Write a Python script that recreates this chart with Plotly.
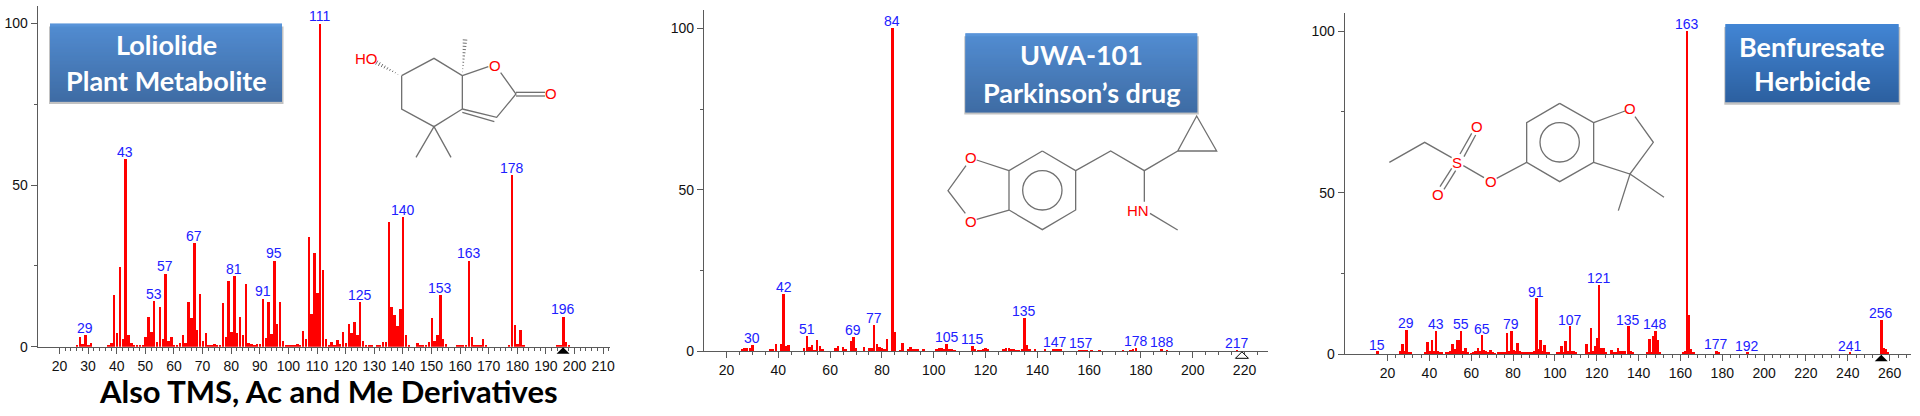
import plotly.graph_objects as go

W, H = 1920, 416
BLUE = "#2020ff"
RED = "#ff0000"
GREY = "#5a5a5a"

# ---------- data ----------
mz1 = [26,27,28,29,30,31,37,38,39,40,41,42,43,44,45,46,47,48,49,50,51,52,53,54,55,56,57,58,59,60,61,62,63,64,65,66,67,68,69,70,71,72,73,74,75,76,77,78,79,80,81,82,83,84,85,86,87,88,89,90,91,92,93,94,95,96,97,98,99,100,101,102,103,104,105,106,107,108,109,110,111,112,113,114,115,116,117,118,119,120,121,122,123,124,125,126,127,128,129,131,132,133,134,135,136,137,138,139,140,141,142,145,146,147,148,149,150,151,152,153,154,155,159,160,161,162,163,164,165,166,167,168,169,177,178,179,180,181,182,194,195,196,197,198]
in1 = [0.7,3,0.8,3.6,0.6,1.2,0.7,1.3,16,4.3,24.7,2.6,58.2,3.6,1.3,0.6,0.5,0.5,0.5,3,9.4,4.6,14.2,1.7,12.4,2.6,22.7,1.9,3.1,0.6,0.6,1.3,3.6,1.2,14,9,32.2,5.4,16.5,2,4.3,0.6,0.6,0.8,0.7,0.5,13.6,3.1,20.3,4.5,21.9,4.3,9.2,3.6,19.4,1.3,1,0.6,0.8,0.8,15,2.9,14,4,26.7,7.2,13.9,2,0.7,0.7,0.6,0.6,1,0.6,4.8,2.6,33.9,10.3,29,16.7,100,23.7,2.6,0.6,1.4,0.7,2.3,1,4.5,1.3,7.2,4.3,7.7,3.8,13.8,1.8,0.7,0.6,0.6,0.6,0.7,1.7,1.5,38.6,12.4,10,6.5,11.8,40.2,3.6,0.7,1.1,0.7,0.6,0.6,1.6,9,1.9,3.6,16,2.4,0.9,0.6,0.5,0.5,0.6,26.7,3.1,0.7,0.5,0.7,2.6,0.6,0.7,53.1,6.7,0.9,5.3,0.7,0.6,0.6,9.4,1.7,0.7]
labels1 = [29,43,53,57,67,81,91,95,111,125,140,153,163,178,196]
ion1 = 196
xticks1 = [20,30,40,50,60,70,80,90,100,110,120,130,140,150,160,170,180,190,200,210]

mz2 = [26,27,28,29,30,37,38,39,41,42,43,44,50,51,52,53,54,55,56,57,62,63,65,66,68,69,70,73,75,76,77,78,79,80,81,82,84,85,87,88,90,91,92,93,94,96,101,102,103,104,105,106,107,108,115,116,117,118,119,120,121,127,128,129,130,131,132,133,134,135,136,137,139,143,146,147,148,149,156,157,158,159,161,164,173,176,177,178,188,190,217]
in2 = [0.8,0.9,1.1,1.1,1.9,0.6,0.7,2.2,2.2,17.6,1.5,1.8,1,4.8,1.2,2,0.5,3.4,1.5,0.7,1,1.5,1.4,0.8,3.3,4.3,1.1,1.2,0.9,1,8,2.2,1.4,1,0.7,3.8,100,6,0.5,2.7,0.6,1.2,0.7,0.6,0.6,0.7,0.7,1,1,0.6,2.2,0.7,0.7,0.4,1.6,0.6,0.5,0.5,0.7,0.9,0.7,0.7,1,0.9,0.6,0.8,0.5,0.5,0.7,10.2,1.8,0.6,0.6,0.6,0.6,0.8,0.8,0.6,0.5,0.5,0.5,0.5,0.5,0.4,0.5,0.5,0.7,1,0.6,0.5,0.5]
labels2 = [30,42,51,69,77,84,105,115,135,147,157,178,188,217]
ion2 = 219
xticks2 = [20,40,60,80,100,120,140,160,180,200,220]

mz3 = [15,26,27,28,29,30,31,38,39,40,41,42,43,44,45,46,48,49,50,51,52,53,54,55,56,57,58,60,61,62,63,64,65,66,67,68,69,70,71,73,74,75,76,77,78,79,80,81,82,83,84,85,86,87,88,89,90,91,92,93,94,95,96,97,101,102,103,104,105,106,107,108,109,110,115,116,117,118,119,120,121,122,123,124,127,128,129,130,131,132,133,135,136,137,144,145,146,147,148,149,150,161,162,163,164,165,166,177,178,192,241,256,257,258,259]
in3 = [0.8,0.8,3.1,0.8,7.5,0.7,0.4,0.7,3.7,0.9,4.2,0.9,7.2,0.8,0.6,0.5,0.5,0.7,0.9,3.1,1.4,4.2,4.2,7.2,1,1.9,0.7,0.3,0.6,0.8,2,1,5.8,1.2,1,0.5,1.2,0.7,0.3,0.5,0.5,0.5,0.5,6.5,0.8,7.2,1.1,0.8,3.4,1,0.6,0.5,0.5,0.5,0.5,0.5,1,17.2,1.5,4.4,1,2.7,0.5,0.5,0.5,0.6,2.4,0.6,4.1,1,8.6,1,0.9,0.5,3.1,0.5,8.1,1,2.6,5,21.4,2,2,0.7,1.2,0.7,0.5,1.9,1,1,1,8.6,1,0.5,0.7,4.5,0.7,5.5,7.2,4.2,0.7,0.7,1,100,12,1.4,0.7,0.9,0.5,0.5,0.5,10.6,1.9,1.5,0.7]
labels3 = [15,29,43,55,65,79,91,107,121,135,148,163,177,192,241,256]
ion3 = 256
xticks3 = [20,40,60,80,100,120,140,160,180,200,220,240,260]

y_ticks = [0, 50, 100]
y_minor = [25, 75]
titles = [["Loliolide", "Plant Metabolite"], ["UWA-101", "Parkinson’s drug"], ["Benfuresate", "Herbicide"]]
footer = "Also TMS, Ac and Me Derivatives"

# ---------- layout geometry (pixels of the 1920x416 page) ----------
def fx(x): return x / W
def fy(y): return 1 - y / H

panels = [
    dict(mz=mz1, vals=in1, labels=labels1, ion=ion1, hollow=False, px=(37.7, 610), py=(346.7, 5.7),
         xr=[12.38, 212.4], yr=[0, 105.5], ticks=xticks1, minor=2, bw=0.85),
    dict(mz=mz2, vals=in2, labels=labels2, ion=ion2, hollow=True, px=(704, 1268), py=(351.3, 10),
         xr=[11.3, 229.06], yr=[0, 105.66], ticks=xticks2, minor=5, bw=0.95),
    dict(mz=mz3, vals=in3, labels=labels3, ion=ion3, hollow=False, px=(1344.7, 1910.7), py=(354.3, 13.3),
         xr=[-0.48, 270.07], yr=[0, 105.5], ticks=xticks3, minor=4, bw=1.2),
]

fig = go.Figure()
annotations, shapes = [], []
TICKFONT = dict(family="Liberation Sans", size=14, color="#111")

for i, p in enumerate(panels, start=1):
    sfx = "" if i == 1 else str(i)
    fig.add_trace(go.Bar(x=p["mz"], y=p["vals"], width=p["bw"], marker=dict(color=RED, line=dict(width=0)),
                         xaxis=f"x{sfx}", yaxis=f"y{sfx}", hoverinfo="x+y"))
    minor_vals = [v for v in range(p["ticks"][0], int(p["xr"][1]) + 1, p["minor"]) if v not in p["ticks"]]
    fig.update_layout({
        f"xaxis{sfx}": dict(domain=[fx(p["px"][0]), fx(p["px"][1])], range=p["xr"], anchor=f"y{sfx}", automargin=False,
                            tickvals=p["ticks"], ticks="outside", ticklen=6, tickwidth=1, tickcolor=GREY,
                            linecolor=GREY, linewidth=1.3, showline=True, showgrid=False, zeroline=False,
                            tickfont=TICKFONT,
                            minor=dict(tickvals=minor_vals, ticks="outside", ticklen=3, tickwidth=1, tickcolor=GREY, showgrid=False)),
        f"yaxis{sfx}": dict(domain=[fy(p["py"][0]), fy(p["py"][1])], range=p["yr"], anchor=f"x{sfx}", automargin=False,
                            tickvals=y_ticks, ticks="outside", ticklen=6, tickwidth=1, tickcolor=GREY,
                            linecolor=GREY, linewidth=1.3, showline=True, showgrid=False, zeroline=False,
                            tickfont=TICKFONT,
                            minor=dict(tickvals=y_minor, ticks="outside", ticklen=3, tickwidth=1, tickcolor=GREY, showgrid=False)),
    })
    lookup = dict(zip(p["mz"], p["vals"]))
    for m in p["labels"]:
        annotations.append(dict(x=m, y=lookup[m], xref=f"x{sfx}", yref=f"y{sfx}", text=str(m), showarrow=False,
                                yanchor="bottom", xanchor="center", yshift=-2, borderpad=0,
                                font=dict(family="Liberation Sans", size=14, color=BLUE)))
    # molecular-ion marker: a triangle sitting under the axis, anchored on the m/z axis
    upx = (p["px"][1] - p["px"][0]) / (p["xr"][1] - p["xr"][0])
    hw = 6.5 / upx
    ya = fy(p["py"][0] + 0.5)
    yb = fy(p["py"][0] + 7)
    shapes.append(dict(type="path", xref=f"x{sfx}", yref="paper",
                       path=f"M {p['ion']},{ya:.5f} L {p['ion'] - hw:.3f},{yb:.5f} L {p['ion'] + hw:.3f},{yb:.5f} Z",
                       fillcolor="white" if p["hollow"] else "black", line=dict(color="black", width=1 if p["hollow"] else 0)))

# ---------- title boxes ----------
boxes = [(50, 282, 23.5, 101.5, 45, 81), (965.3, 1197.3, 33.3, 112, 55, 92), (1725.3, 1898.7, 24, 102.3, 46, 81)]
top, bot = (66, 133, 212), (44, 96, 160)
for (x0, x1, y0, y1, t1, t2), lines in zip(boxes, titles):
    shapes.append(dict(type="rect", xref="paper", yref="paper", x0=fx(x0 - 1), x1=fx(x1 + 1.5), y0=fy(y1 + 2.5), y1=fy(y0 + 3),
                       fillcolor="rgba(120,120,120,0.45)", line=dict(width=0), layer="below"))
    n = int(round(y1 - y0))
    for k in range(n):
        t = k / max(n - 1, 1)
        c = [round(a + (b - a) * t) for a, b in zip(top, bot)]
        shapes.append(dict(type="rect", xref="paper", yref="paper", x0=fx(x0), x1=fx(x1),
                           y0=fy(y0 + k + 1.3), y1=fy(y0 + k), fillcolor=f"rgb({c[0]},{c[1]},{c[2]})", line=dict(width=0)))
    for txt, yc in zip(lines, (t1, t2)):
        annotations.append(dict(x=fx((x0 + x1) / 2), y=fy(yc), xref="paper", yref="paper", text=txt, showarrow=False,
                                xanchor="center", yanchor="middle",
                                font=dict(family="Lato", size=27, color="white", weight=700)))

annotations.append(dict(x=fx(328), y=fy(391), xref="paper", yref="paper", text=footer, showarrow=False,
                        xanchor="center", yanchor="middle", font=dict(family="Lato", size=31, color="black", weight=700)))

# ---------- chemical structures (coordinates in zoom units: page px * 3) ----------
def seg(ox, pts, color="#707070", width=1.3):
    path = "M " + " L ".join(f"{fx(ox + a / 3):.5f},{fy(b / 3):.5f}" for a, b in pts)
    shapes.append(dict(type="path", xref="paper", yref="paper", path=path, line=dict(color=color, width=width)))

def chem_text(ox, a, b, s, size=15):
    annotations.append(dict(x=fx(ox + a / 3), y=fy(b / 3), xref="paper", yref="paper", text=s, showarrow=False,
                            xanchor="center", yanchor="middle", borderpad=0,
                            font=dict(family="Liberation Sans", size=size, color=RED)))

def hash_wedge(ox, a, b, n=8, half=4.5):
    (ax, ay), (bx, by) = a, b
    dx, dy = bx - ax, by - ay
    L = (dx * dx + dy * dy) ** 0.5
    ux, uy = -dy / L, dx / L
    for k in range(1, n + 1):
        t = k / n
        cx, cy = ax + dx * t, ay + dy * t
        h = half * t * 1.5
        seg(ox, [(cx - ux * h, cy - uy * h), (cx + ux * h, cy + uy * h)], width=1)

def ring(ox, cx, cy, r):
    shapes.append(dict(type="circle", xref="paper", yref="paper", x0=fx(ox + (cx - r) / 3), x1=fx(ox + (cx + r) / 3),
                       y0=fy((cy + r) / 3), y1=fy((cy - r) / 3), line=dict(color="#707070", width=1.3)))

# Loliolide
O1 = 310
seg(O1, [(275, 227), (372, 175), (457, 227), (457, 327), (372, 380), (275, 327), (275, 227)])
seg(O1, [(457, 227), (535, 200)])
seg(O1, [(572, 218), (618, 282), (560, 352), (457, 327)])
seg(O1, [(553, 365), (457, 337)])
seg(O1, [(618, 277), (705, 277)])
seg(O1, [(618, 288), (705, 288)])
seg(O1, [(318, 472), (372, 380), (423, 472)])
hash_wedge(O1, (457, 225), (465, 120), n=11)
hash_wedge(O1, (272, 227), (200, 188), n=9)
chem_text(O1, 168, 175, "HO"); chem_text(O1, 555, 195, "O"); chem_text(O1, 723, 280, "O")

# UWA-101
O2 = 960
seg(O2, [(247, 453), (347, 512), (347, 630), (247, 689), (147, 630), (147, 512), (247, 453)])
ring(O2, 247, 571, 59)
seg(O2, [(147, 512), (50, 480)]); seg(O2, [(147, 630), (50, 658)])
seg(O2, [(18, 497), (-36, 572), (16, 640)])
seg(O2, [(347, 512), (452, 453), (553, 512), (653, 453), (710, 348), (770, 453), (653, 453)])
seg(O2, [(553, 512), (553, 605)]); seg(O2, [(570, 640), (653, 690)])
chem_text(O2, 34, 472, "O"); chem_text(O2, 34, 664, "O"); chem_text(O2, 535, 630, "HN")

# Benfuresate
O3 = 1300
seg(O3, [(268, 487), (374, 427), (455, 473)])
seg(O3, [(480, 462), (515, 400)]); seg(O3, [(492, 470), (527, 405)])
seg(O3, [(455, 505), (420, 560)]); seg(O3, [(467, 512), (432, 568)])
seg(O3, [(490, 497), (552, 533)]); seg(O3, [(590, 535), (680, 487)])
seg(O3, [(779, 310), (881, 368), (881, 487), (779, 545), (680, 487), (680, 368), (779, 310)])
ring(O3, 779, 427, 59)
seg(O3, [(881, 368), (975, 333)])
seg(O3, [(1005, 350), (1060, 427), (990, 522), (881, 487)])
seg(O3, [(955, 632), (990, 522), (1092, 592)])
chem_text(O3, 471, 487, "S"); chem_text(O3, 531, 380, "O"); chem_text(O3, 413, 584, "O")
chem_text(O3, 573, 545, "O"); chem_text(O3, 990, 325, "O")

fig.update_layout(width=W, height=H, margin=dict(l=0, r=0, t=0, b=0, pad=0), paper_bgcolor="white", plot_bgcolor="rgba(0,0,0,0)",
                  showlegend=False, bargap=0, annotations=annotations, shapes=shapes)
fig.write_html("out.html", config=dict(displayModeBar=False),
               post_script="document.body.style.margin='0';document.documentElement.style.overflow='hidden';")
